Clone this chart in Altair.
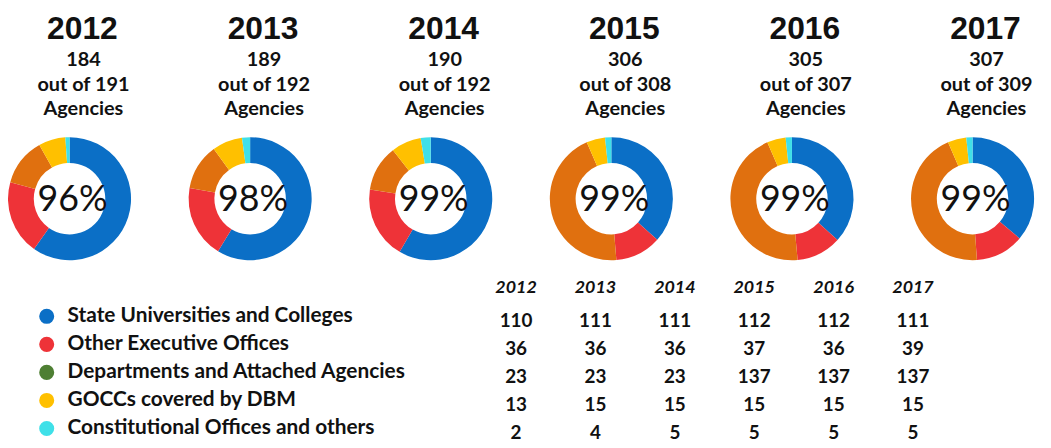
import math
import altair as alt
import pandas as pd

years = ["2012", "2013", "2014", "2015", "2016", "2017"]
categories = [
    "State Universities and Colleges",
    "Other Executive Offices",
    "Departments and Attached Agencies",
    "GOCCs covered by DBM",
    "Constitutional Offices and others",
]
suc = [110, 111, 111, 112, 112, 111]
oeo = [36, 36, 36, 37, 36, 39]
dept = [23, 23, 23, 137, 137, 137]
gocc = [13, 15, 15, 15, 15, 15]
const = [2, 4, 5, 5, 5, 5]
total_agencies = [191, 192, 192, 308, 307, 309]

donut_colors = ["#0B6FC6", "#EE3338", "#E0700F", "#FFC000", "#3FE0E8"]
legend_colors = ["#0B6FC6", "#EE3338", "#4E7F33", "#FFC000", "#3FE0E8"]

series = [suc, oeo, dept, gocc, const]

# long table of arcs with cumulative fractions
rows = []
for yi, yr in enumerate(years):
    vals = [s[yi] for s in series]
    tot = sum(vals)
    cum = 0
    for ci, cat in enumerate(categories):
        rows.append({"year": yr, "category": cat, "value": vals[ci],
                     "start": cum / tot, "end": (cum + vals[ci]) / tot})
        cum += vals[ci]
arcs = pd.DataFrame(rows)

summary = pd.DataFrame({
    "year": years,
    "submitted": [sum(s[i] for s in series) for i in range(len(years))],
    "total": total_agencies,
})
summary["pct"] = [f"{round(100 * s / t)}%" for s, t in zip(summary["submitted"], summary["total"])]
summary["line1"] = summary["submitted"].astype(str)
summary["line2"] = ["out of " + str(t) for t in summary["total"]]
summary["line3"] = "Agencies"

table = pd.DataFrame([{"tyear": yr, "category": cat, "value": str(series[ci][yi])}
                      for yi, yr in enumerate(years) for ci, cat in enumerate(categories)])
legend_df = pd.DataFrame({"lcat": categories})
header_df = pd.DataFrame({"tyear": years})

FONT = "Lato"
INK = "#111111"

xs = alt.Scale(type="point", domain=years, range=[62, 972], padding=0)
X = alt.X("year:N", scale=xs, axis=None)
ys = alt.Scale(type="point", domain=categories, range=[309, 422], padding=0)
ts = alt.Scale(type="point", domain=years, range=[512, 912], padding=0)

donut = alt.Chart(arcs).mark_arc(outerRadius=62, innerRadius=36).encode(
    x=X,
    y=alt.value(190.5),
    theta=alt.Theta("start:Q", scale=alt.Scale(domain=[0, 1], range=[0, 2 * math.pi]), stack=None),
    theta2="end:Q",
    color=alt.Color("category:N", scale=alt.Scale(domain=categories, range=donut_colors), legend=None),
)

base = alt.Chart(summary)
center = base.mark_text(font=FONT, fontSize=36, baseline="middle", color=INK, dx=3, dy=1).encode(
    x=X, y=alt.value(190.5), text="pct:N")
title = base.mark_text(font="Liberation Sans", fontSize=32, fontWeight="bold", baseline="alphabetic",
                       color=INK, dx=13).encode(
    x=X, y=alt.value(29.5), text="year:N")
sub_kw = dict(font=FONT, fontSize=20, fontWeight="bold", baseline="alphabetic", color=INK, dx=14)
sub1 = base.mark_text(**sub_kw).encode(x=X, y=alt.value(57), text="line1:N")
sub2 = base.mark_text(**sub_kw).encode(x=X, y=alt.value(81.5), text="line2:N")
sub3 = base.mark_text(**sub_kw).encode(x=X, y=alt.value(106), text="line3:N")

leg_dots = alt.Chart(legend_df).mark_point(filled=True, size=230, opacity=1, shape="circle").encode(
    x=alt.value(39),
    y=alt.Y("lcat:N", scale=ys, axis=None),
    color=alt.Color("lcat:N", scale=alt.Scale(domain=categories, range=legend_colors), legend=None),
)
leg_text = alt.Chart(legend_df).mark_text(font=FONT, fontSize=21, fontWeight="bold", align="left",
                                           baseline="middle", color=INK).encode(
    x=alt.value(60), y=alt.Y("lcat:N", scale=ys, axis=None), text="lcat:N")

hdr = alt.Chart(header_df).mark_text(font=FONT, fontSize=18, fontWeight="bold", fontStyle="italic",
                                     baseline="middle", color=INK).encode(
    x=alt.X("tyear:N", scale=ts, axis=None), y=alt.value(280), text="tyear:N")
cells = alt.Chart(table).mark_text(font=FONT, fontSize=19, fontWeight="bold", baseline="middle",
                                   color=INK, dy=5).encode(
    x=alt.X("tyear:N", scale=ts, axis=None),
    y=alt.Y("category:N", scale=ys, axis=None),
    text="value:N")

chart = alt.layer(donut, center, title, sub1, sub2, sub3, leg_dots, leg_text, hdr, cells).resolve_scale(
    x="independent", y="independent", color="independent"
).properties(
    width=1043, height=440, padding=0, autosize=alt.AutoSizeParams(type="none"), background="white"
).configure_view(strokeWidth=0)

chart.save("out.html", embed_options={"renderer": "svg", "actions": False})
